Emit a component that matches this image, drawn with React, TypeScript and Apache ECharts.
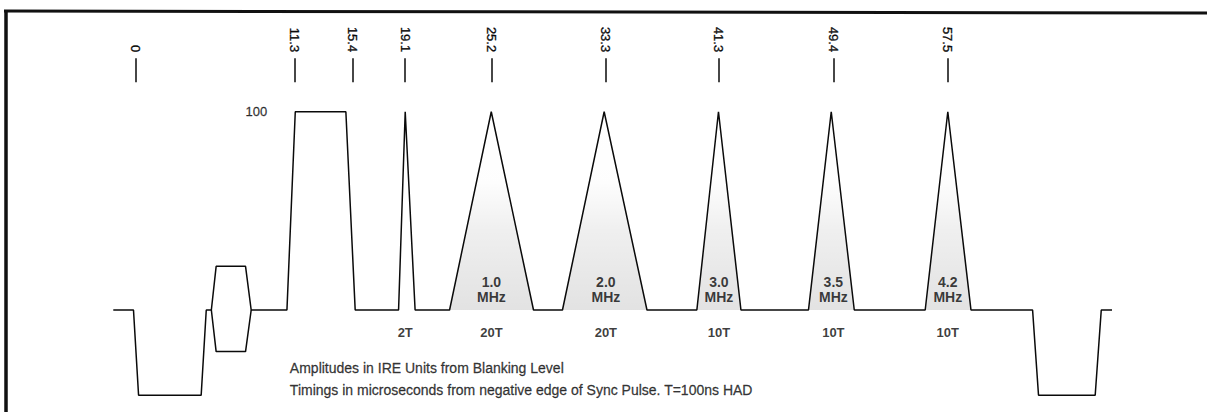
import React, { useEffect, useRef } from "react";
import * as echarts from "echarts";

// Waveform (time in microseconds from the negative sync edge, amplitude in IRE)
const waveT = [
  -1.56, -0.13, 0.23, 4.66, 5.02, 5.38, 5.72, 7.8, 8.2, 10.73, 11.32, 14.9, 15.56,
  18.63, 19.1, 19.8, 22.24, 25.19, 28.18, 30.23, 33.18, 36.21, 39.74, 41.27, 42.86,
  47.64, 49.25, 50.88, 55.9, 57.5, 59.14, 63.5, 63.92, 67.93, 68.36, 69.12,
];
const waveIRE = [
  0, 0, -43, -43, 0, 0, 22, 22, 0, 0, 100, 100, 0,
  0, 100, 0, 0, 100, 0, 0, 100, 0, 0, 100, 0,
  0, 100, 0, 0, 100, 0, 0, -43, -43, 0, 0,
];
// lower half of the colour burst envelope
const burstLowT = [5.38, 5.72, 7.8, 8.2];
const burstLowIRE = [0, -21, -21, 0];

// timing markers along the top
const markerTimes = [0, 11.3, 15.4, 19.1, 25.2, 33.3, 41.3, 49.4, 57.5];

// modulated pulses
const freqPulseTimes = [25.2, 33.3, 41.3, 49.4, 57.5];
const freqLabels = ["1.0", "2.0", "3.0", "3.5", "4.2"];

// pulse widths
const widthLabelTimes = [19.1, 25.2, 33.3, 41.3, 49.4, 57.5];
const widthLabels = ["2T", "20T", "20T", "10T", "10T", "10T"];

// amplitude annotation
const whiteBarLabel = "100";
const whiteBarLabelT = 8.56;
const whiteBarIRE = 100;

// notes
const notes = [
  "Amplitudes in IRE Units from Blanking Level",
  "Timings in microseconds from negative edge of Sync Pulse. T=100ns HAD",
];

const FONT = "'Liberation Sans', Arial, Helvetica, sans-serif";
const INK = "#0a0a0a";

export default function App() {
  const ref = useRef<HTMLDivElement>(null);

  useEffect(() => {
    if (!ref.current) return;
    const chart = echarts.init(ref.current, null, { renderer: "svg" });

    const wave = waveT.map((t, i) => [t, waveIRE[i]]);
    const burstLow = burstLowT.map((t, i) => [t, burstLowIRE[i]]);

    // filled triangles for the modulated pulses, taken from the waveform itself
    const fills = freqPulseTimes.map((ft) => {
      let best = 0;
      waveT.forEach((t, i) => {
        if (waveIRE[i] === 100 && Math.abs(t - ft) < Math.abs(waveT[best] - ft)) best = i;
      });
      return [
        [waveT[best - 1], waveIRE[best - 1]],
        [waveT[best], waveIRE[best]],
        [waveT[best + 1], waveIRE[best + 1]],
      ];
    });

    const fillSeries = fills.map((d) => ({
      type: "line",
      data: d,
      symbol: "none",
      silent: true,
      z: 1,
      lineStyle: { width: 0, opacity: 0 },
      areaStyle: {
        origin: "auto",
        color: {
          type: "linear",
          x: 0,
          y: 0,
          x2: 0,
          y2: 1,
          colorStops: [
            { offset: 0, color: "rgba(0,0,0,0)" },
            { offset: 0.35, color: "rgba(0,0,0,0.01)" },
            { offset: 0.6, color: "rgba(0,0,0,0.09)" },
            { offset: 1, color: "rgba(0,0,0,0.16)" },
          ],
        },
      },
    }));

    const thick = { textBorderColor: INK, textBorderWidth: 0.3 };

    const labelSeries = (data: any[], label: any) => ({
      type: "scatter",
      data,
      symbolSize: 1,
      silent: true,
      z: 5,
      itemStyle: { color: "rgba(0,0,0,0)" },
      label: { show: true, color: INK, fontFamily: FONT, ...label },
    });

    chart.setOption({
      animation: false,
      backgroundColor: "#ffffff",
      grid: { left: 100, right: 75.5, top: 58.2, bottom: 12.8 },
      xAxis: {
        type: "value",
        position: "top",
        min: -2.5,
        max: 70.5,
        axisLine: { show: false, onZero: false },
        splitLine: { show: false },
        axisTick: {
          show: true,
          inside: true,
          length: 24,
          customValues: markerTimes,
          lineStyle: { color: INK, width: 1.5 },
        },
        axisLabel: {
          show: true,
          customValues: markerTimes,
          rotate: 90,
          margin: 6,
          color: INK,
          fontFamily: FONT,
          fontSize: 13,
          ...thick,
          formatter: (v: number) => String(v),
        },
      },
      yAxis: {
        type: "value",
        min: -45,
        max: 127,
        show: false,
        splitLine: { show: false },
      },
      graphic: [
        {
          type: "line",
          shape: { x1: 4, y1: 11, x2: 1207, y2: 13 },
          style: { stroke: "#111", lineWidth: 3 },
        },
        {
          type: "line",
          shape: { x1: 6, y1: 10, x2: 6, y2: 412 },
          style: { stroke: "#111", lineWidth: 3.5 },
        },
      ],
      series: [
        ...fillSeries,
        {
          type: "line",
          data: wave,
          symbol: "none",
          silent: true,
          z: 3,
          lineStyle: { color: INK, width: 1.5 },
        },
        {
          type: "line",
          data: burstLow,
          symbol: "none",
          silent: true,
          z: 3,
          lineStyle: { color: INK, width: 1.5 },
        },
        labelSeries(
          freqPulseTimes.map((t, i) => ({ value: [t, 10.5], name: freqLabels[i] })),
          {
            position: "inside",
            fontSize: 14,
            fontWeight: "bold",
            lineHeight: 15,
            align: "center",
            formatter: (p: any) => `${p.name}\nMHz`,
          }
        ),
        labelSeries(
          widthLabelTimes.map((t, i) => ({ value: [t, -11.6], name: widthLabels[i] })),
          {
            position: "inside",
            fontSize: 13,
            fontWeight: "bold",
            formatter: (p: any) => p.name,
          }
        ),
        labelSeries([{ value: [whiteBarLabelT, whiteBarIRE], name: whiteBarLabel }], {
          position: "inside",
          fontSize: 13,
          ...thick,
          formatter: (p: any) => p.name,
        }),
        labelSeries(
          notes.map((n, i) => ({ value: [10.9, i === 0 ? -29.2 : -40.3], name: n })),
          {
            position: "right",
            distance: 0,
            fontSize: 14,
            ...thick,
            formatter: (p: any) => p.name,
          }
        ),
      ],
    });

    return () => chart.dispose();
  }, []);

  return (
    <div
      ref={ref}
      style={{
        position: "fixed",
        left: 0,
        top: 0,
        width: 1207,
        height: 412,
        background: "#fff",
      }}
    />
  );
}
